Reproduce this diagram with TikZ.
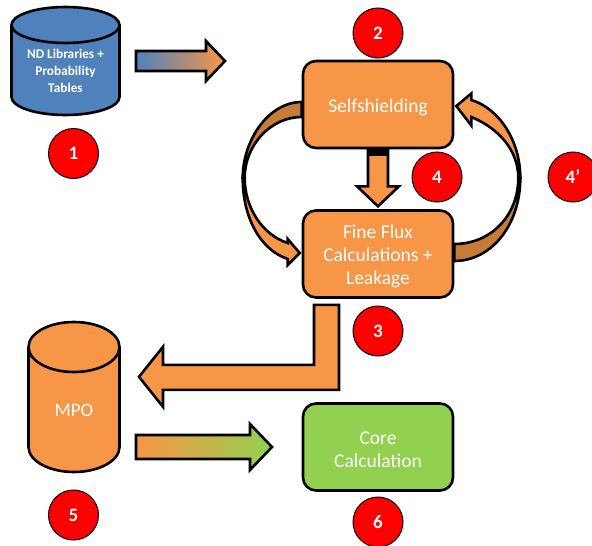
\documentclass[tikz,border=0pt]{standalone}
\usepackage{fontspec}
\setmainfont{Carlito}
\definecolor{fluxorange}{HTML}{F79646}
\definecolor{darkorange}{HTML}{C67B38}
\definecolor{libblue}{HTML}{4F81BD}
\definecolor{coregreen}{HTML}{92D050}
\tikzset{
    calcbox/.style={draw=black, line width=2.6pt, rounded corners=13pt, fill=fluxorange,
        minimum width=150pt, minimum height=87pt},
    calctext/.style={text=white, align=center, yshift=-2.5pt, font=\fontsize{19.5}{23}\selectfont},
    drumline/.style={draw=black, line width=2.6pt},
    stepmark/.style={draw=black, line width=1pt, circle, fill=red, text=white, minimum size=50pt, inner sep=0pt,
        font=\fontsize{19}{20}\selectfont\bfseries},
    blockarrow/.style={draw=black, line width=2.6pt, fill=fluxorange, miter limit=10},
    backband/.style={draw=black, line width=2.6pt, fill=darkorange},
}
% centre x, top y, bottom y, x radius, y radius, colour
\newcommand{\drumshape}[6]{
    \draw [drumline, fill=#6] (#1-#4,#2) -- (#1-#4,#3) arc [start angle=180, end angle=360, x radius=#4pt, y radius=#5pt]
        -- (#1+#4,#2) arc [start angle=0, end angle=180, x radius=#4pt, y radius=#5pt] -- cycle;
    \draw [drumline] (#1-#4,#2) arc [start angle=180, end angle=360, x radius=#4pt, y radius=#5pt];
}
\begin{document}
\begin{tikzpicture}[x=1pt, y=-1pt]
    \useasboundingbox (0,0) rectangle (592,546);

    \drumshape{65.5}{25}{97}{54}{18}{libblue}
    \node [text=white, align=center, font=\fontsize{13.3}{17}\selectfont\bfseries] (libcyl) at (65.5,71) {ND Libraries +\\Probability\\Tables};
    \drumshape{74}{347}{447}{45.5}{25}{fluxorange}
    \node [text=white, font=\fontsize{19}{20}\selectfont] (mpocyl) at (74,410) {MPO};
    \coordinate (libout) at (120,61);
    \coordinate (mpoout) at (120,397);

    \node [calcbox] (selfbox) at (378,104.5) {};
    \node [calctext] (selftext) at (selfbox) {Selfshielding};
    \node [calcbox] (fluxbox) at (378,254) {};
    \node [calctext] (fluxtext) at (fluxbox) {Fine Flux\\Calculations +\\Leakage};
    \node [calcbox, fill=coregreen] (corebox) at (378,447) {};
    \node [calctext] (coretext) at (corebox) {Core\\Calculation};

    \node [stepmark] (mark1) at (73.5,153.5) {1};
    \node [stepmark] (mark2) at (378,33) {2};
    \node [stepmark] (mark3) at (378,331) {3};
    \node [stepmark] (mark4) at (437,177) {4};
    \node [stepmark] (mark4p) at (573,177) {4’};
    \node [stepmark] (mark5) at (73.5,515) {5};
    \node [stepmark] (mark6) at (378,522) {6};

    % straight block arrows
    \draw [blockarrow, left color=libblue, right color=fluxorange, shift={(libout)}]
        (16,-10) -- (86,-10) -- (86,-20) -- (105,0) -- (86,20) -- (86,10) -- (16,10) -- cycle;
    \draw [blockarrow, left color=fluxorange, right color=coregreen, shift={(mpoout)}]
        (16,38) -- (130,38) -- (130,27) -- (152,50) -- (130,73) -- (130,62) -- (16,62) -- cycle;
    \draw [blockarrow, shift={(selfbox.south)}]
        (-10,0) -- (-10,37) -- (-21,37) -- (0,57) -- (21,37) -- (10,37) -- (10,0) -- cycle;
    \fill [black, shift={(selfbox.south)}] (-11,0) rectangle (11,7);
    \draw [blockarrow, shift={(fluxbox.south)}]
        (-64,6) -- (-39,6) -- (-39,91) -- (-215,91) -- (-215,108) -- (-239,78) -- (-215,48) -- (-215,66) -- (-64,66) -- cycle;

    % curved block arrows, left side
    \draw [backband, shift={(selfbox.west)}]
        (0,-2.5) .. controls (-33,-2.5) and (-59,35.5) .. (-59,73.5)
        -- (-57,73.5) .. controls (-57,40.5) and (-31,12.5) .. (0,12.5) -- cycle;
    \draw [blockarrow, shift={(fluxbox.west)}]
        (-59,-76) .. controls (-59,-36) and (-41,-4) .. (-14,5)
        -- (-14,11) -- (-2,-1) -- (-14,-15) -- (-14,-11)
        .. controls (-39,-19) and (-57,-46) .. (-57,-76) -- cycle;

    % curved block arrows, right side
    \draw [backband, shift={(fluxbox.east)}]
        (0,7) .. controls (37,7) and (66,-29) .. (66,-76)
        -- (64,-76) .. controls (64,-39) and (37,-10) .. (0,-10) -- cycle;
    \draw [blockarrow, shift={(selfbox.east)}]
        (66,73.5) .. controls (66,35.5) and (44,3.5) .. (17,-4.5)
        -- (17,-11) -- (2,1.5) -- (17,21) -- (17,12.5)
        .. controls (44,23.5) and (64,45.5) .. (64,73.5) -- cycle;
\end{tikzpicture}
\end{document}
